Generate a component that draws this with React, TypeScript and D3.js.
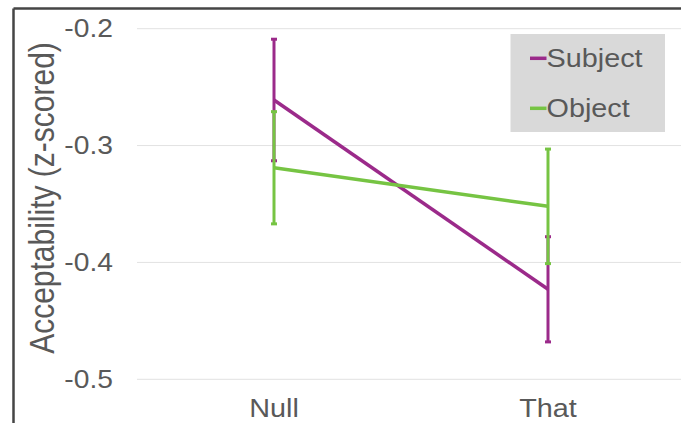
import React from "react";
import * as d3 from "d3";

const categories = ["Null", "That"];
const seriesNames = ["Subject", "Object"];
const subjectMeans = [-0.261, -0.423];
const subjectErr = [0.052, 0.045];
const objectMeans = [-0.319, -0.352];
const objectErr = [0.048, 0.049];
const yTicks = [-0.2, -0.3, -0.4, -0.5];
const colors = ["#9b2a8a", "#76c443"];

const W = 681;
const H = 423;
const SX = 1.13;

export default function App() {
  const y = d3.scaleLinear().domain([-0.5, -0.2]).range([379.3, 28.7]);
  const x = d3.scalePoint().domain(categories).range([274, 548]);
  const series = [
    { name: seriesNames[0], means: subjectMeans, err: subjectErr, color: colors[0] },
    { name: seriesNames[1], means: objectMeans, err: objectErr, color: colors[1] },
  ];
  const line = d3
    .line<number>()
    .x((_, i) => x(categories[i]) as number)
    .y((d) => y(d));
  const font = "Helvetica, Arial, 'Liberation Sans', sans-serif";
  return (
    <svg
      width={W}
      height={H}
      style={{ position: "absolute", left: 0, top: 0, background: "#fff" }}
    >
      {/* frame */}
      <line x1={13.5} x2={W} y1={8.5} y2={8.5} stroke="#454545" strokeWidth={2.5} />
      <line x1={13.5} x2={13.5} y1={8.5} y2={H} stroke="#454545" strokeWidth={2.5} />
      {/* gridlines */}
      {yTicks.map((t) => (
        <g key={t}>
          <line x1={137} x2={W} y1={y(t)} y2={y(t)} stroke="#e2e2e2" strokeWidth={1} />
          <text
            transform={`translate(113,${y(t)}) scale(${SX},1)`}
            dy="0.33em"
            textAnchor="end"
            fontFamily={font}
            fontSize={25}
            fill="#595959"
          >
            {t.toFixed(1)}
          </text>
        </g>
      ))}
      {/* x labels */}
      {categories.map((c) => (
        <text
          key={c}
          transform={`translate(${x(c) as number},416.5) scale(${SX},1)`}
          textAnchor="middle"
          fontFamily={font}
          fontSize={25.5}
          fill="#595959"
        >
          {c}
        </text>
      ))}
      {/* y title */}
      <text
        transform={`translate(54,198) scale(1.18,1) rotate(-90)`}
        textAnchor="middle"
        fontFamily={font}
        fontSize={30}
        fill="#595959"
      >
        Acceptability (z-scored)
      </text>
      {/* series lines */}
      {series.map((s) => (
        <path key={s.name} d={line(s.means) || ""} fill="none" stroke={s.color} strokeWidth={3.5} />
      ))}
      {/* error bars */}
      {series.map((s) =>
        s.means.map((m, i) => {
          const cx = x(categories[i]) as number;
          const top = y(m + s.err[i]);
          const bot = y(m - s.err[i]);
          return (
            <g key={s.name + i}>
              <line x1={cx} x2={cx} y1={top} y2={bot} stroke={s.color} strokeWidth={3} />
              <line x1={cx - 3} x2={cx + 3} y1={top} y2={top} stroke={s.color} strokeWidth={3} />
              <line x1={cx - 3} x2={cx + 3} y1={bot} y2={bot} stroke={s.color} strokeWidth={3} />
            </g>
          );
        })
      )}
      {/* legend */}
      <rect x={510.5} y={34} width={154.5} height={98} fill="#d9d9d9" />
      {series.map((s, i) => (
        <g key={s.name} transform={`translate(530,${58.3 + i * 50})`}>
          <line x1={0} x2={16.5} y1={0} y2={0} stroke={s.color} strokeWidth={3.5} />
          <text
            transform={`translate(16.5,0) scale(${SX},1)`}
            dy="0.33em"
            fontFamily={font}
            fontSize={25.5}
            fill="#595959"
          >
            {s.name}
          </text>
        </g>
      ))}
    </svg>
  );
}
